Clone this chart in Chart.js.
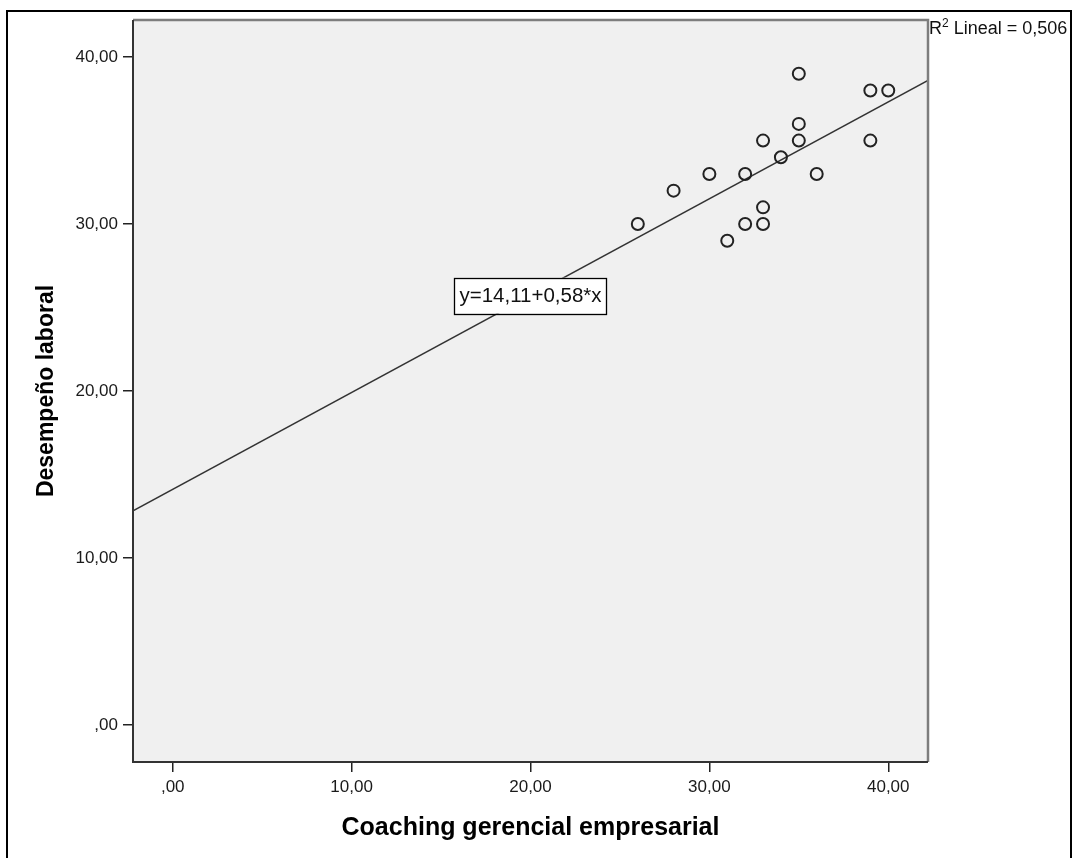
<!DOCTYPE html>
<html>
<head>
<meta charset="utf-8">
<title>Desempeño laboral vs Coaching gerencial empresarial</title>
<script src="https://cdn.jsdelivr.net/npm/chart.js@4.4.1/dist/chart.umd.min.js"></script>
<style>
    body { margin: 0; background: #ffffff; }
    #wrap { position: relative; width: 1073px; height: 858px; }
</style>
</head>
<body>
<div id="wrap">
    <canvas id="scatterChart" width="1073" height="858"></canvas>
</div>
<script>
// Values (Coaching = x, Desempeño = y)
const coachingScores = [26, 28, 30, 31, 32, 32, 33, 33, 33, 34, 35, 35, 35, 36, 39, 39, 40];
const desempenoScores = [30, 32, 33, 29, 33, 30, 35, 31, 30, 34, 39, 36, 35, 33, 38, 35, 38];

// Fit line as printed on the chart
const intercept = 14.11;
const slope = 0.58;
const rSquared = '0,506';
const fitLabel = 'y=14,11+0,58*x';
const fitLabelAt = 20;

// Axis range and ticks
const axisMin = -2.2222;
const axisMax = 42.2222;
const tickValues = [0, 10, 20, 30, 40];
const tickLabels = [',00', '10,00', '20,00', '30,00', '40,00'];

const fontFamily = 'Arial, "Liberation Sans", sans-serif';
Chart.defaults.font.family = fontFamily;
Chart.defaults.color = '#1a1a1a';

const points = coachingScores.map((x, i) => ({ x: x, y: desempenoScores[i] }));
const fitPoints = [axisMin, axisMax].map(x => ({ x: x, y: intercept + slope * x }));

// Grey plot background, plot border and the outer black frame
const framePlugin = {
    id: 'frame',
    beforeDraw(chart) {
        const ctx = chart.ctx;
        const a = chart.chartArea;
        ctx.save();
        ctx.fillStyle = '#f0f0f0';
        ctx.fillRect(a.left, a.top, a.right - a.left, a.bottom - a.top);

        // outer frame
        ctx.strokeStyle = '#000000';
        ctx.lineWidth = 2;
        ctx.beginPath();
        ctx.moveTo(7, 900);
        ctx.lineTo(7, 11);
        ctx.lineTo(1071, 11);
        ctx.lineTo(1071, 900);
        ctx.stroke();
        ctx.restore();
    },
    afterDatasetsDraw(chart) {
        const ctx = chart.ctx;
        const a = chart.chartArea;
        ctx.save();
        ctx.lineWidth = 2.5;
        ctx.strokeStyle = '#7d7d7d';
        ctx.beginPath();
        ctx.moveTo(a.left, a.top);
        ctx.lineTo(a.right, a.top);
        ctx.lineTo(a.right, a.bottom);
        ctx.stroke();
        ctx.lineWidth = 2;
        ctx.strokeStyle = '#333333';
        ctx.beginPath();
        ctx.moveTo(a.left, a.top);
        ctx.lineTo(a.left, a.bottom);
        ctx.lineTo(a.right, a.bottom);
        ctx.stroke();
        ctx.restore();
    }
};

// Equation box on the line and the R² note at the top right
const labelPlugin = {
    id: 'fitLabels',
    afterDraw(chart) {
        const ctx = chart.ctx;
        const xs = chart.scales.x;
        const ys = chart.scales.y;
        ctx.save();

        const px = xs.getPixelForValue(fitLabelAt);
        const py = ys.getPixelForValue(intercept + slope * fitLabelAt);
        ctx.font = '20.5px ' + fontFamily;
        const w = ctx.measureText(fitLabel).width + 10;
        const h = 36;
        ctx.fillStyle = '#ffffff';
        ctx.fillRect(px - w / 2, py - h / 2, w, h);
        ctx.strokeStyle = '#000000';
        ctx.lineWidth = 1.3;
        ctx.strokeRect(Math.round(px - w / 2) + 0.5, Math.round(py - h / 2) + 0.5, Math.round(w), h);
        ctx.fillStyle = '#111111';
        ctx.textAlign = 'center';
        ctx.textBaseline = 'middle';
        ctx.fillText(fitLabel, px, py + 1);

        // R² Lineal
        const a = chart.chartArea;
        let tx = a.right + 1;
        const base = 34;
        ctx.textAlign = 'left';
        ctx.textBaseline = 'alphabetic';
        ctx.font = '18px ' + fontFamily;
        ctx.fillText('R', tx, base);
        tx += ctx.measureText('R').width;
        ctx.font = '12px ' + fontFamily;
        ctx.fillText('2', tx, base - 7);
        tx += ctx.measureText('2').width;
        ctx.font = '18px ' + fontFamily;
        ctx.fillText(' Lineal = ' + rSquared, tx, base);
        ctx.restore();
    }
};

const ctx = document.getElementById('scatterChart').getContext('2d');
window.myChart = new Chart(ctx, {
    type: 'scatter',
    data: {
        datasets: [{
            label: 'Observado',
            data: points,
            pointStyle: 'circle',
            pointRadius: 6,
            pointHoverRadius: 6,
            pointBorderWidth: 2,
            borderColor: '#222222',
            backgroundColor: 'rgba(0,0,0,0)'
        }, {
            type: 'line',
            label: 'Lineal',
            data: fitPoints,
            borderColor: '#333333',
            borderWidth: 1.5,
            pointRadius: 0,
            fill: false
        }]
    },
    options: {
        responsive: false,
        animation: false,
        layout: {
            padding: { top: 20, right: 145, left: 0, bottom: 0 }
        },
        plugins: {
            legend: { display: false },
            tooltip: { enabled: false }
        },
        scales: {
            x: {
                type: 'linear',
                min: axisMin,
                max: axisMax,
                afterFit(scale) { scale.height = 96; },
                afterBuildTicks(scale) { scale.ticks = tickValues.map(v => ({ value: v })); },
                border: { display: false },
                grid: {
                    drawOnChartArea: false,
                    drawTicks: true,
                    tickLength: 10,
                    tickColor: '#222222',
                    lineWidth: 1.5
                },
                ticks: {
                    padding: 5,
                    font: { size: 17 },
                    color: '#1a1a1a',
                    maxRotation: 0,
                    callback: (v, i) => tickLabels[i]
                },
                title: {
                    display: true,
                    text: 'Coaching gerencial empresarial',
                    font: { size: 25, weight: 'bold' },
                    color: '#000000',
                    padding: { top: 0, bottom: 15 }
                }
            },
            y: {
                type: 'linear',
                min: axisMin,
                max: axisMax,
                afterFit(scale) { scale.width = 133; },
                afterBuildTicks(scale) { scale.ticks = tickValues.map(v => ({ value: v })); },
                border: { display: false },
                grid: {
                    drawOnChartArea: false,
                    drawTicks: true,
                    tickLength: 10,
                    tickColor: '#222222',
                    lineWidth: 1.5
                },
                ticks: {
                    padding: 5,
                    font: { size: 17 },
                    color: '#1a1a1a',
                    callback: (v, i) => tickLabels[i]
                },
                title: {
                    display: true,
                    text: 'Desempeño laboral',
                    font: { size: 23, weight: 'bold' },
                    color: '#000000',
                    padding: { top: 33, bottom: 0 }
                }
            }
        }
    },
    plugins: [framePlugin, labelPlugin]
});
</script>
</body>
</html>
